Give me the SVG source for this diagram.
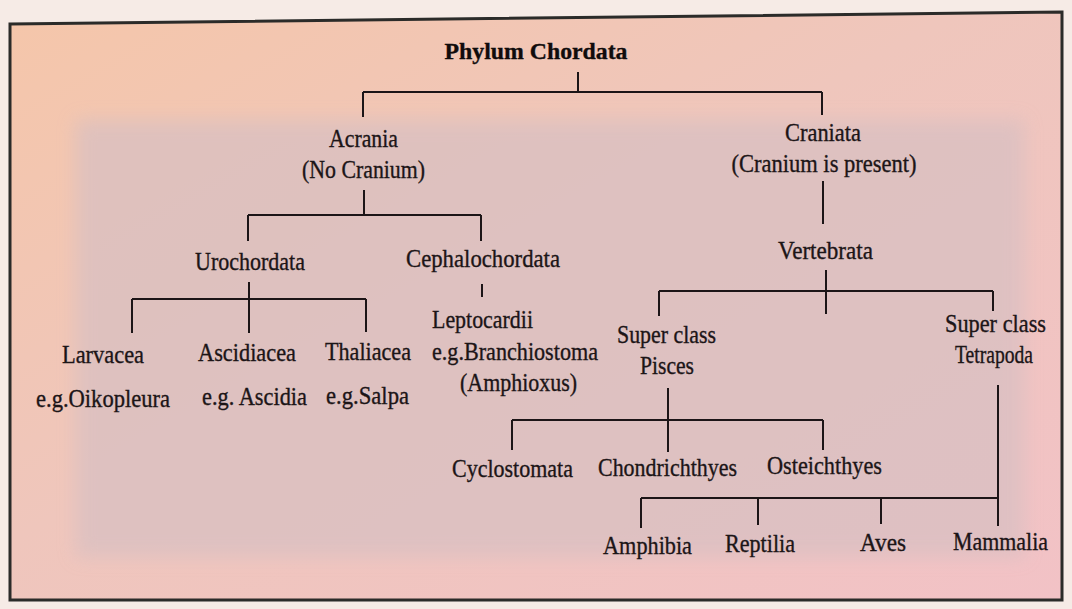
<svg xmlns="http://www.w3.org/2000/svg" width="1072" height="609" viewBox="0 0 1072 609">
<defs>
<style>
text{font-family:"Liberation Serif","Times New Roman",serif;font-size:25px;fill:#1c1517;stroke:#1c1517;stroke-width:0.35;text-anchor:middle}
.b{font-weight:bold;font-size:24px;fill:#100c0c;stroke:#100c0c}
.ln{stroke:#1c1517;stroke-width:2;fill:none}
</style>
<linearGradient id="bg" x1="0" y1="0" x2="1" y2="1">
<stop offset="0" stop-color="#f5c6aa"/>
<stop offset="0.45" stop-color="#efc6bc"/>
<stop offset="1" stop-color="#f2c2c6"/>
</linearGradient>
<filter id="blur" x="-10%" y="-10%" width="120%" height="120%"><feGaussianBlur stdDeviation="9"/></filter>
</defs>
<rect x="0" y="0" width="1072" height="609" fill="#f6ebe6"/>
<path d="M10 24 L1062 12 L1062 600 L10 600 Z" fill="url(#bg)"/>
<rect x="76" y="120" width="948" height="437" fill="#d8c0c2" opacity="0.72" filter="url(#blur)"/>
<path d="M10 24 L1062 12 L1062 600 L10 600 Z" fill="none" stroke="#2b2b29" stroke-width="3"/>
<g id="connectors">
<path class="ln" d="M578 72V92M363 92H822M363 92V117M822 92V115"/>
<path class="ln" d="M364 190V215M248 215H481M248 215V241M481 215V241"/>
<path class="ln" d="M249 282V333M132 299H366M132 299V333M366 299V332"/>
<path class="ln" d="M482 284V297"/>
<path class="ln" d="M823 181V224"/>
<path class="ln" d="M826 270V314M659 291H993M659 291V316M993 291V311"/>
<path class="ln" d="M668 388V452M512 420H823M512 420V450M823 420V450"/>
<path class="ln" d="M998 385V526M641 498H998M641 498V528M758 498V525M881 498V524"/>
</g>
<g id="n-phylum"><text class="b" x="536" y="59" textLength="183" lengthAdjust="spacingAndGlyphs">Phylum Chordata</text></g>
<g id="n-acrania"><text x="363.5" y="147" textLength="69" lengthAdjust="spacingAndGlyphs">Acrania</text><text x="363.5" y="178" textLength="123" lengthAdjust="spacingAndGlyphs">(No Cranium)</text></g>
<g id="n-craniata"><text x="823" y="141" textLength="76" lengthAdjust="spacingAndGlyphs">Craniata</text><text x="824" y="172" textLength="185" lengthAdjust="spacingAndGlyphs">(Cranium is present)</text></g>
<g id="n-urochordata"><text x="250" y="270" textLength="110" lengthAdjust="spacingAndGlyphs">Urochordata</text></g>
<g id="n-cephalochordata"><text x="483" y="267" textLength="154" lengthAdjust="spacingAndGlyphs">Cephalochordata</text></g>
<g id="n-vertebrata"><text x="825.5" y="259" textLength="95" lengthAdjust="spacingAndGlyphs">Vertebrata</text></g>
<g id="n-larvacea"><text x="103" y="363" textLength="82" lengthAdjust="spacingAndGlyphs">Larvacea</text><text x="103" y="407" textLength="134" lengthAdjust="spacingAndGlyphs">e.g.Oikopleura</text></g>
<g id="n-ascidiacea"><text x="247" y="361" textLength="98" lengthAdjust="spacingAndGlyphs">Ascidiacea</text><text x="254.5" y="405" textLength="105" lengthAdjust="spacingAndGlyphs">e.g. Ascidia</text></g>
<g id="n-thaliacea"><text x="368" y="360" textLength="86" lengthAdjust="spacingAndGlyphs">Thaliacea</text><text x="367.5" y="404" textLength="83" lengthAdjust="spacingAndGlyphs">e.g.Salpa</text></g>
<g id="n-leptocardii"><text x="482.5" y="328" textLength="101" lengthAdjust="spacingAndGlyphs">Leptocardii</text><text x="515" y="360" textLength="166" lengthAdjust="spacingAndGlyphs">e.g.Branchiostoma</text><text x="518.5" y="391" textLength="117" lengthAdjust="spacingAndGlyphs">(Amphioxus)</text></g>
<g id="n-pisces"><text x="666.5" y="343" textLength="99" lengthAdjust="spacingAndGlyphs">Super class</text><text x="667" y="374" textLength="54" lengthAdjust="spacingAndGlyphs">Pisces</text></g>
<g id="n-tetrapoda"><text x="995.5" y="332" textLength="101" lengthAdjust="spacingAndGlyphs">Super class</text><text x="994" y="363" textLength="78" lengthAdjust="spacingAndGlyphs">Tetrapoda</text></g>
<g id="n-cyclostomata"><text x="512.5" y="477" textLength="121" lengthAdjust="spacingAndGlyphs">Cyclostomata</text></g>
<g id="n-chondrichthyes"><text x="667.5" y="476" textLength="139" lengthAdjust="spacingAndGlyphs">Chondrichthyes</text></g>
<g id="n-osteichthyes"><text x="824.5" y="474" textLength="115" lengthAdjust="spacingAndGlyphs">Osteichthyes</text></g>
<g id="n-amphibia"><text x="647.5" y="554" textLength="89" lengthAdjust="spacingAndGlyphs">Amphibia</text></g>
<g id="n-reptilia"><text x="760" y="552" textLength="70" lengthAdjust="spacingAndGlyphs">Reptilia</text></g>
<g id="n-aves"><text x="883" y="551" textLength="46" lengthAdjust="spacingAndGlyphs">Aves</text></g>
<g id="n-mammalia"><text x="1000.5" y="550" textLength="95" lengthAdjust="spacingAndGlyphs">Mammalia</text></g>
</svg>
